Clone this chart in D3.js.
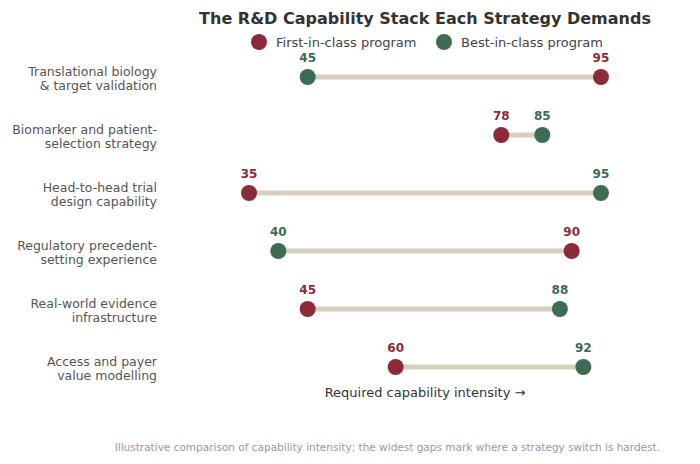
<!DOCTYPE html>
<html><head><meta charset="utf-8">
<script src="https://cdn.jsdelivr.net/npm/d3@7"></script>
<style>body{margin:0;background:#fff;font-family:"DejaVu Sans",sans-serif}</style>
</head><body><svg id="c" width="700" height="464"></svg>
<script>
const categories=[["Translational biology","& target validation"],["Biomarker and patient-","selection strategy"],["Head-to-head trial","design capability"],["Regulatory precedent-","setting experience"],["Real-world evidence","infrastructure"],["Access and payer","value modelling"]];
const firstInClass=[95,78,35,90,45,60];
const bestInClass=[45,85,95,40,88,92];
const seriesNames=["First-in-class program","Best-in-class program"];
const colors=["#8B2A3A","#3D6B55"];
const svg=d3.select("#c");
const x=d3.scaleLinear().domain([0,100]).range([43.7,630.3]);
const y=d3.scalePoint().domain(d3.range(categories.length)).range([77,367]);
svg.append("text").attr("x",425).attr("y",24).attr("text-anchor","middle").attr("font-size",16).attr("font-weight","bold").attr("fill","#333").text("The R&D Capability Stack Each Strategy Demands");
const lg=[[259,seriesNames[0],colors[0]],[444,seriesNames[1],colors[1]]];
lg.forEach(([lx,t,c])=>{svg.append("circle").attr("cx",lx).attr("cy",42).attr("r",8).attr("fill",c);
svg.append("text").attr("x",lx+17).attr("y",47).attr("font-size",13).attr("fill","#444").text(t);});
categories.forEach((cat,i)=>{
 const a=firstInClass[i],b=bestInClass[i],yy=y(i);
 const t=svg.append("text").attr("x",157).attr("text-anchor","end").attr("font-size",12.5).attr("fill","#555");
 t.append("tspan").attr("x",157).attr("y",yy-1).text(cat[0]);
 t.append("tspan").attr("x",157).attr("y",yy+13).text(cat[1]);
 svg.append("line").attr("x1",x(Math.min(a,b))).attr("x2",x(Math.max(a,b))).attr("y1",yy).attr("y2",yy).attr("stroke","#D5CFC0").attr("stroke-width",5);
 [[a,colors[0]],[b,colors[1]]].forEach(([v,c])=>{
  svg.append("circle").attr("cx",x(v)).attr("cy",yy).attr("r",8).attr("fill",c);
  svg.append("text").attr("x",x(v)).attr("y",yy-15).attr("text-anchor","middle").attr("font-size",12).attr("font-weight","bold").attr("fill",c).text(v);
 });
});
svg.append("text").attr("x",425).attr("y",397).attr("text-anchor","middle").attr("font-size",13).attr("fill","#333").text("Required capability intensity  →");
svg.append("text").attr("x",660).attr("y",451).attr("text-anchor","end").attr("font-size",10.5).attr("fill","#999").text("Illustrative comparison of capability intensity; the widest gaps mark where a strategy switch is hardest.");
</script></body></html>
